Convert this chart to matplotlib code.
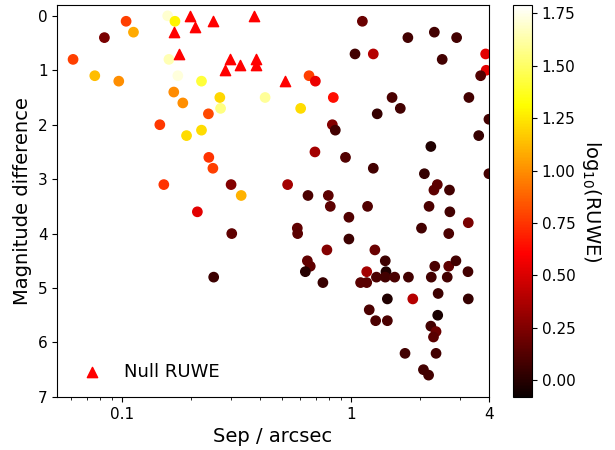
import numpy as np
import matplotlib
matplotlib.use('Agg')
import matplotlib.pyplot as plt
from matplotlib.ticker import FixedLocator, FixedFormatter, NullFormatter

# stars with a RUWE value
sep = [0.104, 0.112, 0.0836, 0.061, 0.0759, 0.0966, 0.158, 0.170, 0.160, 0.175,
       0.222, 0.168, 0.184, 0.146, 0.191, 0.152, 0.267, 0.269, 0.238, 0.222,
       0.421, 0.602, 0.655, 0.698, 0.836, 0.828, 0.853, 0.239, 0.249, 0.695,
       0.945, 0.299, 0.528, 0.331, 0.648, 0.795, 1.12, 1.77, 2.31, 2.89,
       1.04, 1.25, 2.50, 3.87, 3.89, 3.68, 1.51, 1.64, 1.30, 3.27,
       4.0, 3.61, 2.23, 1.25, 2.09, 4.0, 2.38, 2.30, 2.69, 0.811,
       0.213, 0.301, 0.582, 0.584, 0.784, 0.644, 0.663, 0.631, 0.753, 0.251,
       1.18, 2.19, 2.70, 3.25, 0.978, 2.03, 2.67, 0.978, 1.27, 1.41,
       1.17, 1.42, 1.10, 1.17, 1.29, 1.41, 1.55, 1.78, 2.24, 2.63,
       2.32, 2.67, 2.87, 3.24, 1.44, 1.86, 2.40, 3.25, 1.20, 1.28,
       1.44, 2.39, 2.23, 2.35, 2.29, 1.72, 2.35, 2.07, 2.18]
dmag = [0.1, 0.3, 0.4, 0.8, 1.1, 1.2, 0.0, 0.1, 0.8, 1.1,
        1.2, 1.4, 1.6, 2.0, 2.2, 3.1, 1.5, 1.7, 1.8, 2.1,
        1.5, 1.7, 1.1, 1.2, 1.5, 2.0, 2.1, 2.6, 2.8, 2.5,
        2.6, 3.1, 3.1, 3.3, 3.3, 3.3, 0.1, 0.4, 0.3, 0.4,
        0.7, 0.7, 0.8, 0.7, 1.0, 1.1, 1.5, 1.7, 1.8, 1.5,
        1.9, 2.2, 2.4, 2.8, 2.9, 2.9, 3.1, 3.2, 3.2, 3.5,
        3.6, 4.0, 3.9, 4.0, 4.3, 4.5, 4.6, 4.7, 4.9, 4.8,
        3.5, 3.5, 3.6, 3.8, 3.7, 3.9, 4.0, 4.1, 4.3, 4.5,
        4.7, 4.7, 4.9, 4.9, 4.8, 4.8, 4.8, 4.8, 4.8, 4.8,
        4.6, 4.6, 4.5, 4.7, 5.2, 5.2, 5.1, 5.2, 5.4, 5.6,
        5.6, 5.5, 5.7, 5.8, 5.9, 6.2, 6.2, 6.5, 6.6]
log_ruwe = [0.78, 1.08, 0.23, 0.78, 1.13, 1.00, 1.70, 1.28, 1.65, 1.72,
            1.42, 0.99, 1.00, 0.76, 1.22, 0.74, 1.20, 1.55, 0.81, 1.22,
            1.60, 1.22, 0.78, 0.55, 0.64, 0.26, 0.08, 0.74, 0.78, 0.35,
            0.12, 0.26, 0.35, 1.10, 0.10, 0.15, 0.19, 0.08, 0.08, 0.08,
            0.08, 0.40, 0.08, 0.52, 0.52, 0.12, 0.10, 0.08, 0.04, 0.08,
            0.08, 0.04, -0.02, 0.08, 0.04, 0.08, 0.15, 0.15, 0.08, 0.15,
            0.52, 0.16, 0.16, 0.14, 0.26, 0.16, 0.16, 0.00, 0.05, 0.06,
            0.12, 0.10, 0.08, 0.23, 0.12, 0.08, 0.10, 0.06, 0.19, 0.06,
            0.35, -0.02, 0.14, 0.14, 0.10, 0.08, 0.10, 0.08, 0.08, 0.08,
            0.10, 0.16, 0.08, 0.08, -0.02, 0.40, 0.06, 0.04, 0.10, 0.10,
            0.10, -0.04, 0.08, 0.19, 0.14, 0.08, 0.08, 0.08, 0.08]

# stars without a RUWE value
null_sep = [0.197, 0.209, 0.168, 0.177, 0.249, 0.375, 0.296, 0.281, 0.328, 0.385, 0.386, 0.513]
null_dmag = [0.0, 0.2, 0.3, 0.7, 0.1, 0.0, 0.8, 1.0, 0.9, 0.8, 0.9, 1.2]

fig = plt.figure(figsize=(6.15, 4.5), dpi=100)
ax = fig.add_axes([0.093, 0.118, 0.702, 0.871])
cax = fig.add_axes([0.834, 0.118, 0.031, 0.871])

sc = ax.scatter(sep, dmag, c=log_ruwe, cmap='hot', vmin=-0.08, vmax=1.79, s=45)
ax.scatter(null_sep, null_dmag, marker='^', color='red', s=55, label='Null RUWE')

ax.set_xscale('log')
ax.set_xlim(0.052, 4)
ax.set_ylim(7, -0.2)
ax.xaxis.set_major_locator(FixedLocator([0.1, 1, 4]))
ax.xaxis.set_major_formatter(FixedFormatter(['0.1', '1', '4']))
ax.xaxis.set_minor_formatter(NullFormatter())
ax.set_yticks(range(8))
ax.tick_params(labelsize=11)
ax.set_xlabel('Sep / arcsec', fontsize=14)
ax.set_ylabel('Magnitude difference', fontsize=14)
ax.legend(loc='lower left', frameon=False, fontsize=13, bbox_to_anchor=(0.0, 0.0))

cb = fig.colorbar(sc, cax=cax)
cb.set_ticks([0.0, 0.25, 0.5, 0.75, 1.0, 1.25, 1.5, 1.75])
cb.ax.tick_params(labelsize=11)
cb.set_label(r'log$_{10}$(RUWE)', rotation=270, fontsize=14, labelpad=20)

fig.savefig('out.png', dpi=100)
